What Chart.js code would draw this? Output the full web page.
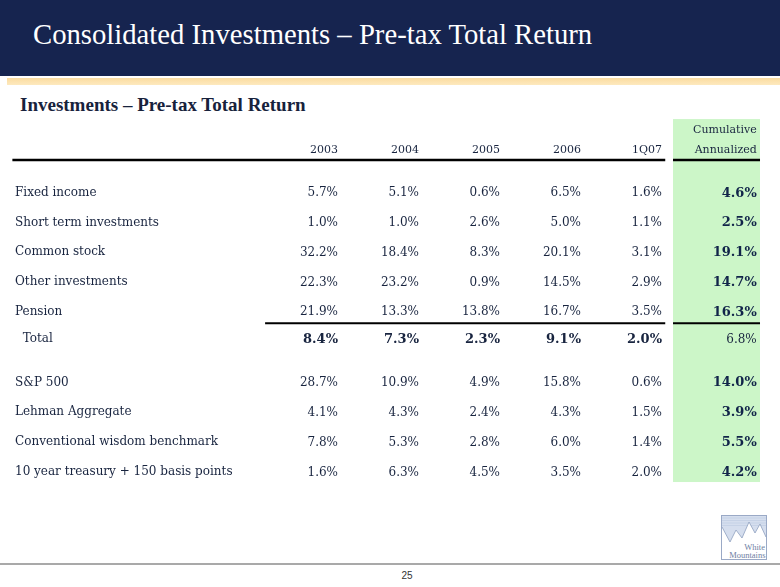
<!DOCTYPE html>
<html>
<head>
<meta charset="utf-8">
<script src="https://cdn.jsdelivr.net/npm/chart.js@4.4.1/dist/chart.umd.min.js"></script>
<style>
  html, body { margin: 0; padding: 0; background: #ffffff; }
  #page { position: relative; width: 780px; height: 587px; overflow: hidden; background: #fff; }
  .band { position: absolute; left: 0; top: 0; width: 780px; height: 76px; background: #16244f; }
  .peach { position: absolute; left: 7px; top: 78px; width: 773px; height: 7px; background: linear-gradient(to bottom, #fbdca0, #fde9bf); }
  .title { position: absolute; left: 33px; top: 20px; font-family: 'Liberation Serif', serif; font-size: 28.7px; line-height: 28px; color: #ffffff; white-space: nowrap; }
  .subtitle { position: absolute; left: 20px; top: 96px; font-family: 'Liberation Serif', serif; font-weight: bold; font-size: 19px; line-height: 18px; color: #17223c; white-space: nowrap; }
  .footline { position: absolute; left: 0; top: 563px; width: 780px; height: 2px; background: #a9a9a9; }
  .pagenum { position: absolute; left: 392px; top: 570px; width: 30px; text-align: center; font-family: 'Liberation Sans', Arial, sans-serif; font-size: 10px; line-height: 12px; color: #333; }
  .logo { position: absolute; left: 721px; top: 515px; }
  #c { position: absolute; left: 0; top: 0; }
</style>
</head>
<body>
<div id="page">
  <div class="band"></div>
  <div class="peach"></div>
  <div class="title">Consolidated Investments – Pre-tax Total Return</div>
  <div class="subtitle">Investments – Pre-tax Total Return</div>
  <div class="footline"></div>
  <div class="pagenum">25</div>
  <svg class="logo" width="46" height="45" viewBox="0 0 46 45">
    <rect x="0.5" y="0.5" width="45" height="44" fill="#ffffff" stroke="#9aa9c6" stroke-width="1"/>
    <rect x="1" y="1" width="44" height="26" fill="#d5deee"/>
    <g stroke="#bccae0" stroke-width="0.6">
      <line x1="1" y1="3" x2="45" y2="3"/><line x1="1" y1="5.5" x2="45" y2="5.5"/>
      <line x1="1" y1="8" x2="45" y2="8"/><line x1="1" y1="10.5" x2="45" y2="10.5"/>
    </g>
    <polygon points="1,12 9,27 15,15 21,23 28,7 34,18 39,9 45,22 45,44 1,44" fill="#ffffff"/>
    <polyline points="1,12 9,27 15,15 21,23 28,7 34,18 39,9 45,22" fill="none" stroke="#8e9fbf" stroke-width="0.8"/>
    <text x="44" y="35" text-anchor="end" font-family="Liberation Serif, serif" font-size="8.5" fill="#6f80a3">White</text>
    <text x="44.5" y="43" text-anchor="end" font-family="Liberation Serif, serif" font-size="8.5" fill="#6f80a3">Mountains</text>
  </svg>
  <canvas id="c" width="780" height="587"></canvas>
</div>
<script>
// ---------- DATA ----------
const rowLabels = [
  'Fixed income',
  'Short term investments',
  'Common stock',
  'Other investments',
  'Pension',
  '  Total',
  'S&P 500',
  'Lehman Aggregate',
  'Conventional wisdom benchmark',
  '10 year treasury + 150 basis points'
];
const columnLabels = ['2003', '2004', '2005', '2006', '1Q07', ['Cumulative', 'Annualized']];
const returns2003 = [5.7, 1.0, 32.2, 22.3, 21.9, 8.4, 28.7, 4.1, 7.8, 1.6];
const returns2004 = [5.1, 1.0, 18.4, 23.2, 13.3, 7.3, 10.9, 4.3, 5.3, 6.3];
const returns2005 = [0.6, 2.6, 8.3, 0.9, 13.8, 2.3, 4.9, 2.4, 2.8, 4.5];
const returns2006 = [6.5, 5.0, 20.1, 14.5, 16.7, 9.1, 15.8, 4.3, 6.0, 3.5];
const returns1Q07 = [1.6, 1.1, 3.1, 2.9, 3.5, 2.0, 0.6, 1.5, 1.4, 2.0];
const cumulativeAnnualized = [4.6, 2.5, 19.1, 14.7, 16.3, 6.8, 14.0, 3.9, 5.5, 4.2];
const totalRowIndex = 5;
const cumulativeColIndex = 5;

// ---------- LAYOUT (positions in scale units, styles) ----------
const series = [returns2003, returns2004, returns2005, returns2006, returns1Q07, cumulativeAnnualized];
const colPos = columnLabels.map((_, i) => i + (i === cumulativeColIndex ? 0.17 : 0));
const rowPos = rowLabels.map((_, i) => i + (i === totalRowIndex ? -0.08 : (i > totalRowIndex ? 0.37 : 0)));

const SERIF = "'DejaVu Serif', serif";
const NAVY = '#18243f';
const NAVY_DARK = '#112449';
const GREEN = '#ccf6c8';

function cellFont(c, r) {
  const isTotal = r === totalRowIndex, isCum = c === cumulativeColIndex;
  if (isTotal !== isCum) return 'bold 13px ' + SERIF;
  return '12px ' + SERIF;
}

const tablePlugin = {
  id: 'tableCells',
  beforeDraw(chart) {
    const { ctx } = chart;
    const xs = chart.scales.x, ys = chart.scales.y;
    const cx = colPos[cumulativeColIndex];
    const x0 = xs.getPixelForValue(cx - 1.034), x1 = xs.getPixelForValue(cx + 0.04);
    const y0 = ys.getPixelForValue(-2.47), y1 = ys.getPixelForValue(9.71);
    ctx.save();
    ctx.fillStyle = GREEN;
    ctx.fillRect(x0, y0, x1 - x0, y1 - y0);
    ctx.restore();
  },
  afterDatasetsDraw(chart) {
    const { ctx } = chart;
    const xs = chart.scales.x, ys = chart.scales.y;
    const cx = colPos[cumulativeColIndex];
    ctx.save();
    ctx.strokeStyle = '#000000';
    const rule = (xa, xb, yv, w) => {
      const y = ys.getPixelForValue(yv);
      ctx.lineWidth = w;
      ctx.beginPath();
      ctx.moveTo(xs.getPixelForValue(xa), y);
      ctx.lineTo(xs.getPixelForValue(xb), y);
      ctx.stroke();
    };
    rule(-4.02, colPos[4] + 0.04, -1.097, 2.6);
    rule(cx - 1.034, cx + 0.04, -1.097, 2.6);
    rule(-0.9, colPos[4] + 0.04, 4.38, 2);
    rule(cx - 1.034, cx + 0.04, 4.38, 2);

    ctx.textAlign = 'right';
    ctx.textBaseline = 'middle';
    chart.data.datasets.forEach((ds, c) => {
      const meta = chart.getDatasetMeta(c);
      meta.data.forEach((el, r) => {
        const v = ds.data[r].v;
        ctx.font = cellFont(c, r);
        ctx.fillStyle = (c === cumulativeColIndex && r !== totalRowIndex) ? NAVY_DARK : NAVY;
        ctx.fillText(v.toFixed(1) + '%', el.x, el.y + 0.5);
      });
    });
    ctx.restore();
  }
};

const datasets = series.map((vals, c) => ({
  label: [].concat(columnLabels[c]).join(' '),
  data: vals.map((v, r) => ({ x: colPos[c], y: rowPos[r], v: v })),
  pointRadius: 0,
  pointHoverRadius: 0,
  showLine: false
}));

new Chart(document.getElementById('c'), {
  type: 'scatter',
  data: { datasets },
  plugins: [tablePlugin],
  options: {
    responsive: false,
    animation: false,
    devicePixelRatio: 1,
    layout: { padding: { top: 100, left: 15, right: 12.7, bottom: 87.4 } },
    plugins: { legend: { display: false }, tooltip: { enabled: false } },
    events: [],
    scales: {
      x: {
        type: 'linear',
        position: 'top',
        min: -1,
        max: 5.3,
        grid: { display: false, drawTicks: false },
        border: { display: false },
        afterBuildTicks: (s) => { s.ticks = colPos.map(v => ({ value: v })); },
        afterFit: (s) => { s.height = 59; },
        ticks: {
          autoSkip: false,
          maxRotation: 0,
          minRotation: 0,
          align: 'end',
          padding: -1,
          color: NAVY,
          font: { family: SERIF, size: 11, lineHeight: '20px' },
          callback: (value, index) => columnLabels[index]
        }
      },
      y: {
        type: 'linear',
        position: 'left',
        reverse: true,
        min: -1.13,
        max: 10.3,
        grid: { display: false, drawTicks: false },
        border: { display: false },
        afterBuildTicks: (s) => { s.ticks = rowPos.map(v => ({ value: v })); },
        afterFit: (s) => { s.width = 242; },
        ticks: {
          autoSkip: false,
          crossAlign: 'far',
          padding: 0,
          color: NAVY,
          font: { family: SERIF, size: 12 },
          callback: (value, index) => rowLabels[index]
        }
      }
    }
  }
});
</script>
</body>
</html>
